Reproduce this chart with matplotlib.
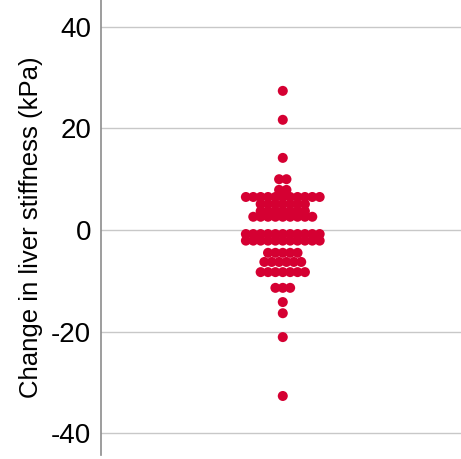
import matplotlib
matplotlib.use("Agg")
import matplotlib.pyplot as plt
import numpy as np

# Row values (kPa) and number of dots stacked in each row
row_values = [27.4, 21.7, 14.2, 10.0, 7.9, 6.5, 5.1, 3.7, 2.6,
              -0.8, -2.1, -4.5, -6.3, -8.3, -11.4, -14.2, -16.4, -21.1, -32.7]
row_counts = [1, 1, 1, 2, 2, 11, 7, 7, 9,
              11, 11, 5, 6, 7, 3, 1, 1, 1, 1]
yticks = [-40, -20, 0, 20, 40]
ylabel = "Change in liver stiffness (kPa)"

plt.rcParams['font.family'] = ['Liberation Sans', 'DejaVu Sans']

fig = plt.figure(figsize=(4.61, 4.59), dpi=100)
ax = fig.add_axes([0.219, 0.009, 0.781, 0.991])

dx = 0.041
xs, ys = [], []
for v, n in zip(row_values, row_counts):
    offs = (np.arange(n) - (n - 1) / 2) * dx
    xs.extend(offs)
    ys.extend([v] * n)

ax.scatter(xs, ys, s=52, color='#d50032', edgecolors='none', zorder=3)

ax.set_xlim(-1.01, 0.99)
ax.set_ylim(-44.3, 45.3)
ax.set_yticks(yticks)
ax.set_yticklabels([str(t) for t in yticks], fontsize=20)
ax.set_xticks([])
ax.tick_params(axis='y', length=0, pad=7)
ax.grid(axis='y', color='#c8c8c8', linewidth=1)
ax.set_axisbelow(True)
for s in ['top', 'right', 'bottom']:
    ax.spines[s].set_visible(False)
ax.spines['left'].set_color('#8c8c8c')
ax.spines['left'].set_linewidth(1.2)
ax.set_ylabel(ylabel, fontsize=18.5, labelpad=6)

fig.savefig("out.png", dpi=100)
